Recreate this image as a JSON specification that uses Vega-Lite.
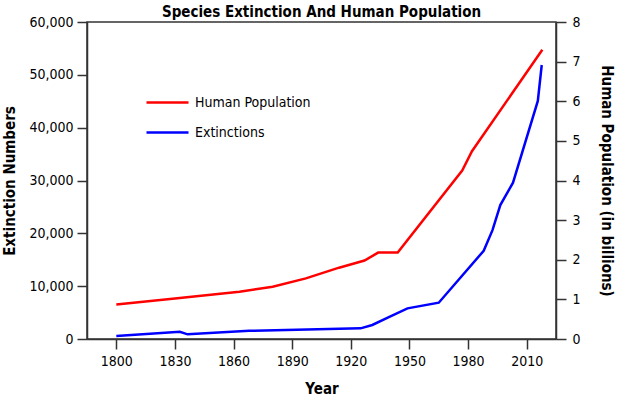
{
  "$schema": "https://vega.github.io/schema/vega-lite/v6.json",
  "autosize": {"type": "none"},
  "padding": {"left": 87, "top": 22, "right": 62, "bottom": 58},
  "width": 469,
  "height": 317,
  "background": "white",
  "config": {
    "font": "DejaVu Sans Condensed, DejaVu Sans",
    "view": {"stroke": "#333", "strokeWidth": 1.5},
    "axis": {
      "grid": false,
      "domainColor": "#333",
      "domainWidth": 1.5,
      "tickColor": "#333",
      "tickWidth": 1.5,
      "tickSize": 10,
      "labelColor": "black",
      "labelFont": "DejaVu Sans Condensed, DejaVu Sans",
      "labelFontSize": 14,
      "titleColor": "black",
      "titleFont": "DejaVu Sans Condensed, DejaVu Sans",
      "titleFontSize": 15,
      "titleFontWeight": "bold"
    },
    "legend": {
      "labelFont": "DejaVu Sans Condensed, DejaVu Sans",
      "labelFontSize": 14,
      "labelColor": "black"
    }
  },
  "title": {
    "text": "Species Extinction And Human Population",
    "font": "DejaVu Sans Condensed, DejaVu Sans",
    "fontSize": 15,
    "fontWeight": "bold",
    "color": "black",
    "anchor": "middle",
    "offset": 0,
    "dy": 5
  },
  "datasets": {
    "population": [
      {"year": 1800, "series": "Human Population", "value": 0.87},
      {"year": 1830, "series": "Human Population", "value": 1.02},
      {"year": 1863, "series": "Human Population", "value": 1.19},
      {"year": 1880, "series": "Human Population", "value": 1.32},
      {"year": 1897, "series": "Human Population", "value": 1.53},
      {"year": 1914, "series": "Human Population", "value": 1.8},
      {"year": 1927, "series": "Human Population", "value": 1.98},
      {"year": 1934, "series": "Human Population", "value": 2.18},
      {"year": 1944, "series": "Human Population", "value": 2.18},
      {"year": 1977, "series": "Human Population", "value": 4.25},
      {"year": 1982, "series": "Human Population", "value": 4.74},
      {"year": 2018, "series": "Human Population", "value": 7.3}
    ],
    "extinctions": [
      {"year": 1800, "series": "Extinctions", "value": 570},
      {"year": 1832.5, "series": "Extinctions", "value": 1350},
      {"year": 1836.5, "series": "Extinctions", "value": 880},
      {"year": 1868, "series": "Extinctions", "value": 1550},
      {"year": 1925, "series": "Extinctions", "value": 2020},
      {"year": 1931, "series": "Extinctions", "value": 2650},
      {"year": 1940, "series": "Extinctions", "value": 4220},
      {"year": 1949, "series": "Extinctions", "value": 5800},
      {"year": 1965, "series": "Extinctions", "value": 6870},
      {"year": 1988, "series": "Extinctions", "value": 16700},
      {"year": 1992.5, "series": "Extinctions", "value": 20600},
      {"year": 1996.5, "series": "Extinctions", "value": 25360},
      {"year": 2003, "series": "Extinctions", "value": 29580},
      {"year": 2015.7, "series": "Extinctions", "value": 45050},
      {"year": 2017.7, "series": "Extinctions", "value": 51860}
    ]
  },
  "encoding": {
    "x": {
      "field": "year",
      "type": "quantitative",
      "scale": {"domain": [1785, 2025], "nice": false, "zero": false},
      "axis": {
        "values": [1800, 1830, 1860, 1890, 1920, 1950, 1980, 2010],
        "format": "d",
        "title": "Year",
        "labelPadding": 5,
        "titlePadding": 13
      }
    },
    "color": {
      "field": "series",
      "type": "nominal",
      "scale": {"domain": ["Human Population", "Extinctions"], "range": ["red", "blue"]},
      "legend": {
        "title": null,
        "orient": "none",
        "legendX": 58,
        "legendY": 58,
        "symbolType": "stroke",
        "symbolSize": 1764,
        "symbolStrokeWidth": 2.5,
        "rowPadding": -12,
        "labelOffset": 5
      }
    }
  },
  "layer": [
    {
      "data": {"name": "extinctions"},
      "mark": {"type": "line", "strokeWidth": 2.5},
      "encoding": {
        "y": {
          "field": "value",
          "type": "quantitative",
          "scale": {"domain": [0, 60000], "nice": false},
          "axis": {
            "orient": "left",
            "values": [0, 10000, 20000, 30000, 40000, 50000, 60000],
            "format": ",d",
            "title": "Extinction Numbers",
            "labelPadding": 4,
            "titlePadding": 11
          }
        }
      }
    },
    {
      "data": {"name": "population"},
      "mark": {"type": "line", "strokeWidth": 2.5},
      "encoding": {
        "y": {
          "field": "value",
          "type": "quantitative",
          "scale": {"domain": [0, 8], "nice": false},
          "axis": {
            "orient": "right",
            "values": [0, 1, 2, 3, 4, 5, 6, 7, 8],
            "format": "d",
            "title": "Human Population (in billions)",
            "labelPadding": 6,
            "titlePadding": 18
          }
        }
      }
    }
  ],
  "resolve": {"scale": {"y": "independent"}}
}
